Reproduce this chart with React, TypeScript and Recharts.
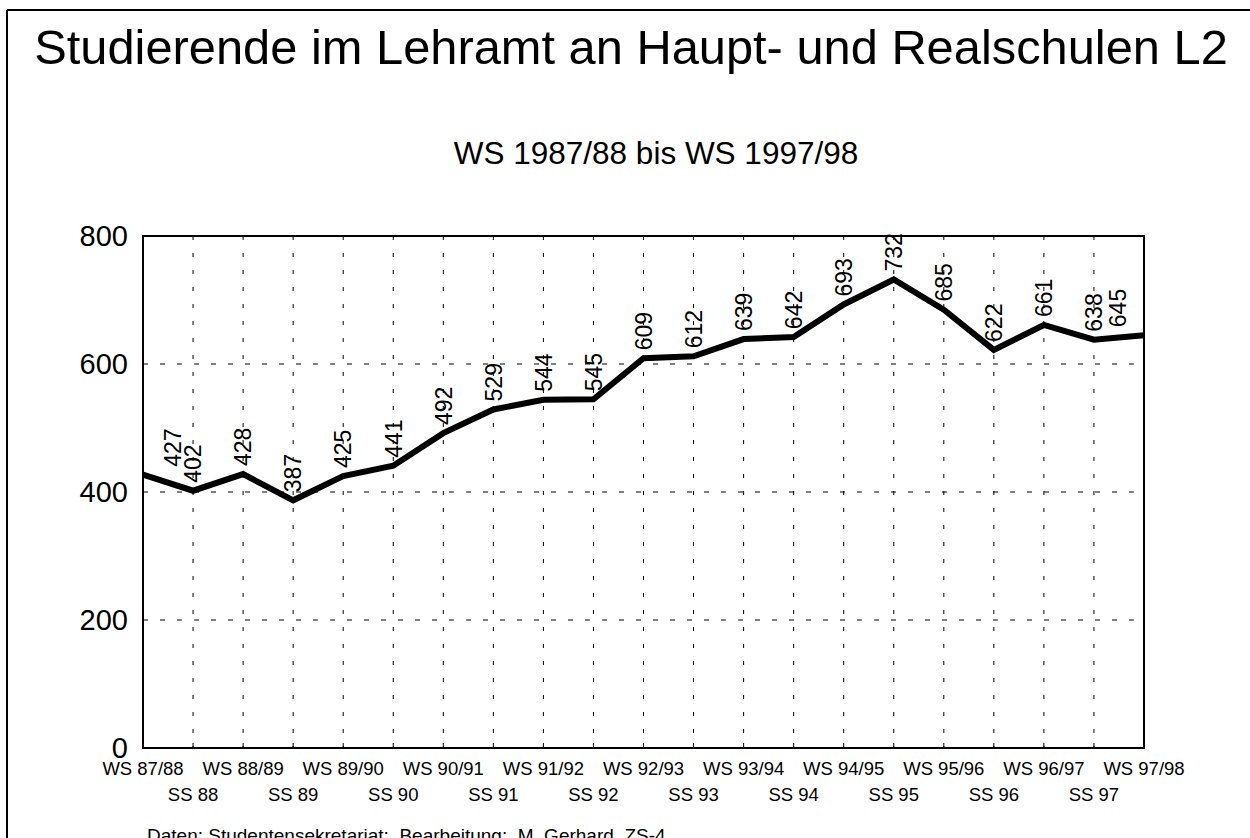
import React from 'react';
import { LineChart, Line, XAxis, YAxis, CartesianGrid, ReferenceArea } from 'recharts';

const categories = [
  'WS 87/88', 'SS 88', 'WS 88/89', 'SS 89', 'WS 89/90', 'SS 90', 'WS 90/91', 'SS 91',
  'WS 91/92', 'SS 92', 'WS 92/93', 'SS 93', 'WS 93/94', 'SS 94', 'WS 94/95', 'SS 95',
  'WS 95/96', 'SS 96', 'WS 96/97', 'SS 97', 'WS 97/98',
];
const students = [427, 402, 428, 387, 425, 441, 492, 529, 544, 545, 609, 612, 639, 642, 693, 732, 685, 622, 661, 638, 645];
const yTicks = [0, 200, 400, 600, 800];
const titleText = 'Studierende im Lehramt an Haupt- und Realschulen L2';
const subtitleText = 'WS 1987/88 bis WS 1997/98';
const footerText = 'Daten: Studentensekretariat;  Bearbeitung:  M. Gerhard, ZS-4';

const data = students.map((v, i) => ({ idx: i, value: v, label: categories[i] }));
const xTicks = categories.map((_, i) => i);

const FONT = '"Liberation Sans", Arial, Helvetica, sans-serif';

const XTick = (props: any) => {
  const { x, y, payload } = props;
  const i = payload.value as number;
  const even = i % 2 === 0;
  return (
    <g>
      <line x1={x} y1={y} x2={x} y2={y - 5} stroke="#000" strokeWidth={1} />
      <text x={x} y={y + (even ? 27 : 53)} textAnchor="middle" fontSize={18.5} fontFamily={FONT} fill="#000">
        {categories[i]}
      </text>
    </g>
  );
};

const YTick = (props: any) => {
  const { x, y, payload } = props;
  return (
    <text x={x} y={y} dy="0.36em" textAnchor="end" fontSize={29} fontFamily={FONT} fill="#000">
      {payload.value}
    </text>
  );
};

const PointLabel = (props: any) => {
  const { x, y, value, index } = props;
  let dx = 0;
  if (index === 0) dx = 30;
  if (index === students.length - 1) dx = -26;
  const cx = x + dx;
  const cy = y - 8;
  return (
    <text
      x={cx}
      y={cy}
      dy="0.36em"
      transform={`rotate(-90 ${cx} ${cy})`}
      textAnchor="start"
      fontSize={23}
      fontFamily={FONT}
      fill="#000"
    >
      {value}
    </text>
  );
};

export default function App() {
  return (
    <div style={{ position: 'absolute', left: 0, top: 0, width: 1250, height: 838, overflow: 'hidden', background: '#fff' }}>
      <LineChart
        width={1250}
        height={838}
        data={data}
        margin={{ top: 236, right: 106, bottom: 0, left: 43 }}
      >
        <CartesianGrid vertical={false} stroke="#000" strokeWidth={1} strokeDasharray="5 12" />
        <CartesianGrid horizontal={false} stroke="#000" strokeWidth={1} strokeDasharray="4 13" />
        <XAxis
          dataKey="idx"
          type="number"
          domain={[0, 20]}
          ticks={xTicks}
          interval={0}
          height={90}
          tickSize={0}
          tickMargin={0}
          tickLine={false}
          axisLine={{ stroke: '#000', strokeWidth: 2 }}
          tick={<XTick />}
        />
        <YAxis
          type="number"
          domain={[0, 800]}
          ticks={yTicks}
          width={100}
          tickSize={0}
          tickMargin={15}
          tickLine={false}
          axisLine={{ stroke: '#000', strokeWidth: 2 }}
          tick={<YTick />}
        />
        <ReferenceArea x1={0} x2={20} y1={0} y2={800} fill="none" fillOpacity={0} stroke="#000" strokeWidth={2} />
        <Line
          type="linear"
          dataKey="value"
          stroke="#000"
          strokeWidth={6}
          dot={false}
          isAnimationActive={false}
          label={<PointLabel />}
        />
      </LineChart>
      <svg width={1250} height={838} style={{ position: 'absolute', left: 0, top: 0, pointerEvents: 'none' }}>
        <line x1={7} y1={10} x2={1250} y2={10} stroke="#000" strokeWidth={2} />
        <line x1={7} y1={10} x2={7} y2={838} stroke="#000" strokeWidth={2} />
        <text x={631} y={64} textAnchor="middle" fontSize={48.8} fontFamily={FONT} fill="#000">{titleText}</text>
        <text x={656} y={164} textAnchor="middle" fontSize={31.5} fontFamily={FONT} fill="#000">{subtitleText}</text>
        <text x={147} y={842} textAnchor="start" fontSize={19} fontFamily={FONT} fill="#000" xmlSpace="preserve">{footerText}</text>
      </svg>
    </div>
  );
}
